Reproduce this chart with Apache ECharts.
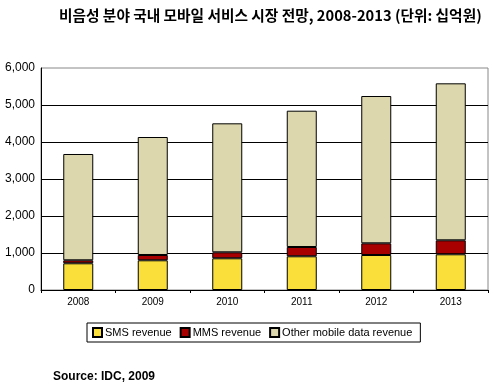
<!DOCTYPE html>
<html><head><meta charset="utf-8">
<script src="https://cdn.jsdelivr.net/npm/echarts@6/dist/echarts.min.js"></script>
<style>html,body{margin:0;padding:0;background:#fff}#c{width:496px;height:389px}</style>
</head><body><div id="c"></div>
<script>
var categories = ['2008','2009','2010','2011','2012','2013'];
var smsRevenue = [722, 803, 857, 911, 946, 965];
var mmsRevenue = [81, 143, 162, 251, 316, 378];
var otherRevenue = [2873, 3189, 3486, 3684, 3981, 4243];
var seriesNames = ['SMS revenue', 'MMS revenue', 'Other mobile data revenue'];
var titleText = '비음성 분야 국내 모바일 서비스 시장 전망, 2008-2013 (단위: 십억원)';
var sourceText = 'Source: IDC, 2009';

var chart = echarts.init(document.getElementById('c'), null, {renderer:'canvas'});
var base = {type:'bar', stack:'total', barWidth:30};
chart.setOption({
  animation:false,
  title:[
    {text:titleText, left:59, top:8, padding:0,
     textStyle:{fontFamily:'Noto Sans CJK KR', fontWeight:'bold', fontSize:14.7, color:'#000'}},
    {text:sourceText, left:48, top:366,
     textStyle:{fontFamily:'Liberation Sans, Arial', fontWeight:'bold', fontSize:12, color:'#000'}}
  ],
  legend:{
    left:87, top:323, orient:'horizontal',
    borderColor:'#000', borderWidth:1, padding:[4,8,4,5],
    itemWidth:9, itemHeight:9, itemGap:8, icon:'rect',
    textStyle:{fontFamily:'Liberation Sans, Arial', fontSize:11, color:'#000', padding:[0,0,0,-2]},
    data:seriesNames
  },
  grid:{left:41, top:68, right:8, bottom:99, show:true, borderColor:'#888', borderWidth:1},
  xAxis:{
    type:'category', data:categories,
    axisLine:{lineStyle:{color:'#000', width:1}},
    axisTick:{show:true, interval:0, alignWithLabel:false, length:3, lineStyle:{color:'#000'}},
    axisLabel:{fontFamily:'Liberation Sans, Arial', fontSize:10, color:'#000', margin:7}
  },
  yAxis:{
    type:'value', min:0, max:6000, interval:1000,
    axisLine:{show:true, lineStyle:{color:'#000', width:1}},
    axisTick:{show:false},
    axisLabel:{fontFamily:'Liberation Sans, Arial', fontSize:12, color:'#000', margin:6,
      formatter:function(v){return v.toLocaleString('en-US');}},
    splitLine:{show:true, showMaxLine:false, lineStyle:{color:'#000', width:1}}
  },
  series:[
    Object.assign({}, base, {name:seriesNames[0], data:smsRevenue, itemStyle:{color:'#FADF3A', borderColor:'#000', borderWidth:1}}),
    Object.assign({}, base, {name:seriesNames[1], data:mmsRevenue, itemStyle:{color:'#A80000', borderColor:'#000', borderWidth:1}}),
    Object.assign({}, base, {name:seriesNames[2], data:otherRevenue, itemStyle:{color:'#DDD7AD', borderColor:'#000', borderWidth:1}})
  ]
});
</script></body></html>
